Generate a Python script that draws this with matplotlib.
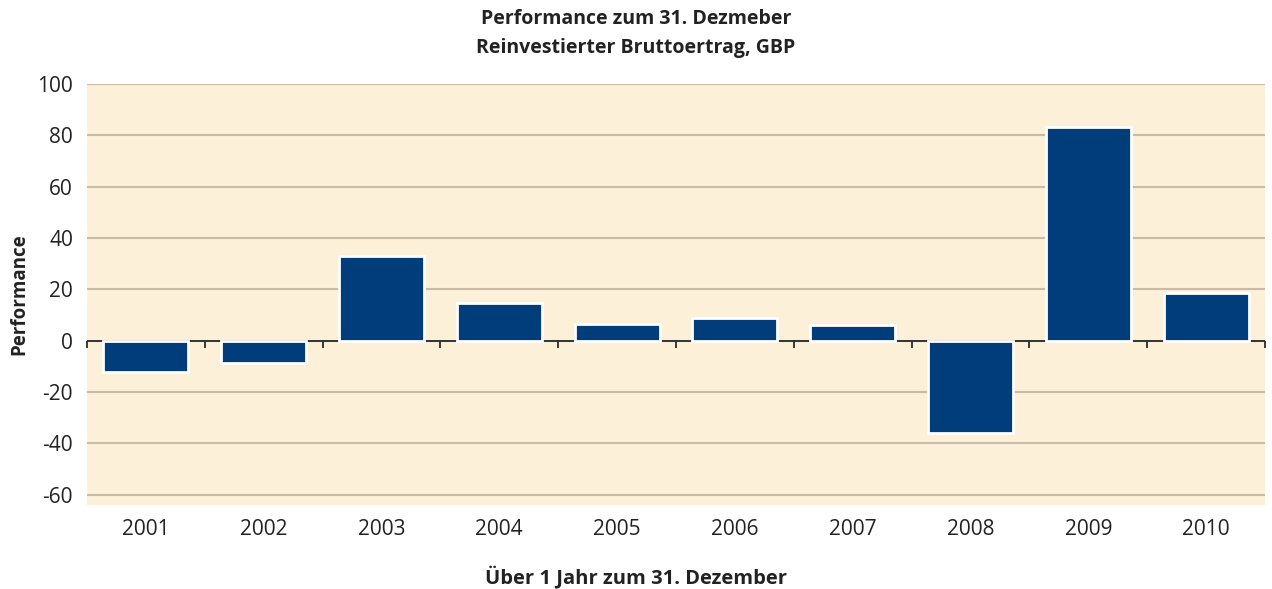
import numpy as np
import matplotlib.pyplot as plt

plt.rcParams['font.family'] = ['Open Sans', 'DejaVu Sans']

years = ['2001', '2002', '2003', '2004', '2005', '2006', '2007', '2008', '2009', '2010']
performance = [-12.1, -8.6, 33.0, 14.7, 6.6, 8.9, 6.2, -35.8, 83.3, 18.6]
y_ticks = [-60, -40, -20, 0, 20, 40, 60, 80, 100]

bar_color = '#003d7a'
bg_color = '#fdf0d9'
grid_color = '#c9bba8'
text_color = '#222222'

fig = plt.figure(figsize=(12.72, 5.89), dpi=100)
ax = fig.add_axes([0.0684, 0.1426, 0.9261, 0.7148])
ax.set_facecolor(bg_color)

x = np.arange(len(years))
ax.bar(x, performance, width=0.72, color=bar_color, edgecolor='white', linewidth=2, zorder=3)

ax.set_xlim(-0.5, len(years) - 0.5)
ax.set_ylim(-64, 100)
ax.set_yticks(y_ticks)
ax.set_yticklabels([str(t) for t in y_ticks])
ax.yaxis.grid(True, color=grid_color, linewidth=1.5, zorder=0)
ax.set_axisbelow(True)

# zero line with small ticks at category boundaries
ax.axhline(0, color='#2a2a2a', linewidth=1.3, zorder=2)
bounds = np.arange(len(years) + 1) - 0.5
ax.vlines(bounds, -3.0, 0, color='#2a2a2a', linewidth=1.3, zorder=2, clip_on=False)

ax.set_xticks(x)
ax.set_xticklabels(years)
ax.tick_params(axis='both', length=0, labelsize=15, colors=text_color)
ax.tick_params(axis='x', pad=10)
ax.tick_params(axis='y', pad=10)

for s in ax.spines.values():
    s.set_visible(False)

ax.set_ylabel('Performance', fontsize=13.5, fontweight='bold', color=text_color, labelpad=6)
fig.text(0.5, 0.02, 'Über 1 Jahr zum 31. Dezember', ha='center', va='center',
         fontsize=14.5, fontweight='bold', color=text_color)
fig.text(0.5, 0.984, 'Performance zum 31. Dezmeber\nReinvestierter Bruttoertrag, GBP', ha='center', va='top',
         fontsize=14, fontweight='bold', color=text_color, linespacing=1.55)

fig.savefig('out.png', dpi=100, facecolor='white')
